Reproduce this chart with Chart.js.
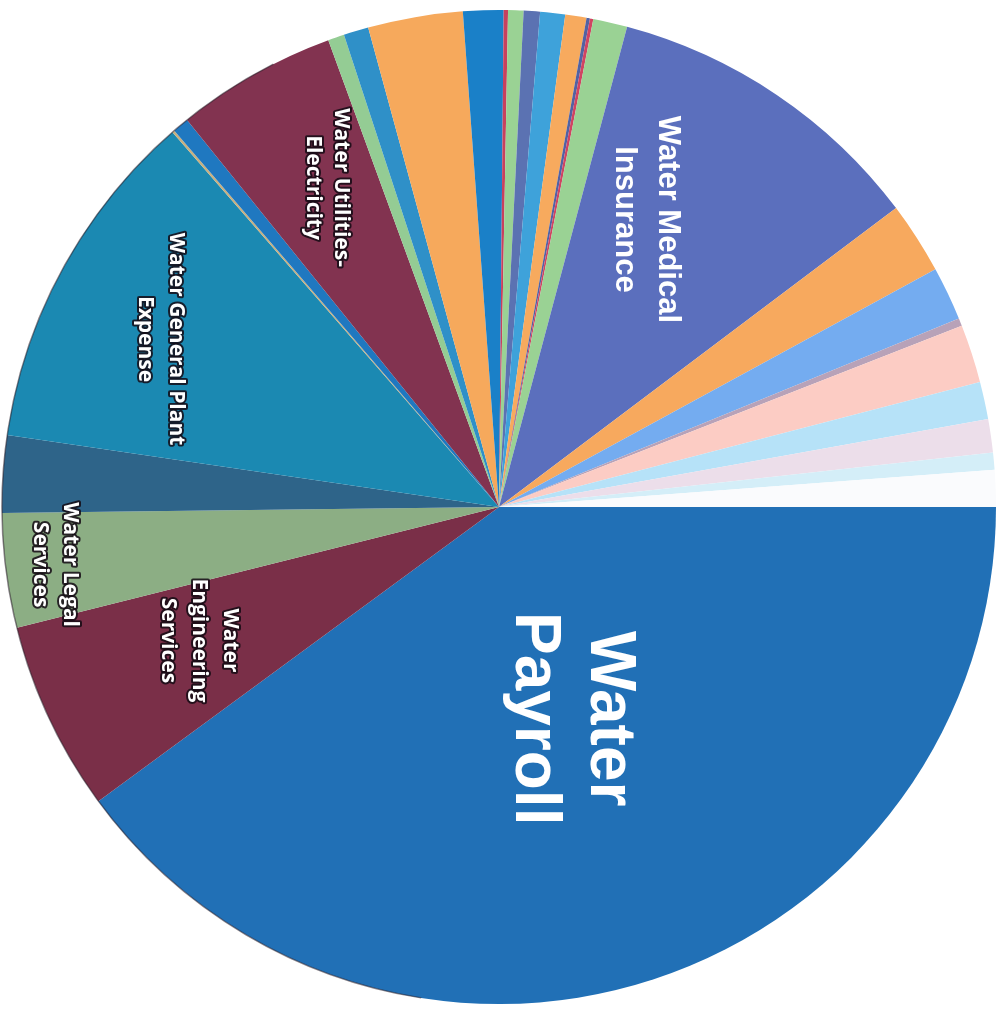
<!DOCTYPE html>
<html>
<head>
<meta charset="utf-8">
<script src="https://cdn.jsdelivr.net/npm/chart.js@4/dist/chart.umd.min.js"></script>
<style>
  html, body { margin:0; padding:0; background:#fff; }
  #wrap { width:1000px; height:1009px; position:relative; }
</style>
</head>
<body>
<div id="wrap"><canvas id="pie"></canvas></div>
<script>
// slices, clockwise from 3 o'clock (share of total, %)
var CATEGORIES = [
  "Water Payroll", "Water Engineering Services", "Water Legal Services", "Water Other 1",
  "Water General Plant Expense", "Water Other 2", "Water Other 3", "Water Utilities-Electricity",
  "Water Other 4", "Water Other 5", "Water Other 6", "Water Other 7", "Water Other 8",
  "Water Other 9", "Water Other 10", "Water Other 11", "Water Other 12", "Water Other 13",
  "Water Other 14", "Water Other 15", "Water Medical Insurance", "Water Other 16",
  "Water Other 17", "Water Other 18", "Water Other 19", "Water Other 20", "Water Other 21",
  "Water Other 22", "Water Other 23"
];
var SHARES = [
  39.92, 6.17, 3.72, 2.50,
  11.28, 0.08, 0.53, 5.22,
  0.53, 0.81, 3.08, 1.31, 0.14,
  0.50, 0.53, 0.81, 0.69, 0.11,
  0.11, 1.11, 10.58, 2.33,
  1.75, 0.25, 1.89, 1.22, 1.08,
  0.56, 1.19
];
var COLORS = [
  "#2170b6", "#7a2f48", "#8cae84", "#2e6489",
  "#1b89b2", "#c8b080", "#1f78c0", "#823350",
  "#94cc94", "#2f90c8", "#f6a95c", "#1a80c8", "#c8405e",
  "#9ad294", "#5b72b2", "#3ea2da", "#f7aa5e", "#5262a2",
  "#d04462", "#9ad294", "#5b6fbd", "#f7a95e",
  "#74acf0", "#b8a2b8", "#fcccc4", "#b6e2f8", "#ecdeea",
  "#d4eef8", "#fafbfd"
];

// labels drawn on slices: slice index, lines, font, radial fraction, angle (deg from 3 o'clock, clockwise)
var LABELS = [
  { idx:0,  lines:["Water","Payroll"], font:"bold 64px 'Liberation Sans', Arial, sans-serif", lh:75, r:0.45, a:71.2, outline:false },
  { idx:20, lines:["Water Medical","Insurance"], font:"bold 31px 'Liberation Sans', Arial, sans-serif", lh:43, r:0.65, a:297.1, outline:false },
  { idx:7,  lines:["Water Utilities-","Electricity"], font:"bold 21px 'Open Sans', sans-serif", lh:28, r:0.73, a:241.7, outline:true },
  { idx:4,  lines:["Water General Plant","Expense"], font:"bold 21px 'Open Sans', sans-serif", lh:31, r:0.76, a:206.4, outline:true },
  { idx:2,  lines:["Water Legal","Services"], font:"bold 21px 'Open Sans', sans-serif", lh:30, r:0.90, a:172.6, outline:true },
  { idx:1,  lines:["Water","Engineering","Services"], font:"bold 21px 'Open Sans', sans-serif", lh:31, r:0.66, a:156, outline:true }
];

var sliceLabels = {
  id: "sliceLabels",
  afterDatasetsDraw: function(chart){
    var ctx = chart.ctx;
    var arc = chart.getDatasetMeta(0).data[0];
    var cx = arc.x, cy = arc.y, R = arc.outerRadius;

    // faint dark rim like the scanned print
    ctx.save();
    ctx.beginPath();
    ctx.arc(cx, cy, R, Math.PI*0.55, Math.PI*1.35);
    ctx.strokeStyle = "rgba(40,30,40,0.55)";
    ctx.lineWidth = 1.5;
    ctx.stroke();
    ctx.restore();

    for (var i=0;i<LABELS.length;i++){
      var L = LABELS[i];
      var ang = L.a * Math.PI/180;
      var px = cx + Math.cos(ang)*R*L.r;
      var py = cy + Math.sin(ang)*R*L.r;
      ctx.save();
      ctx.translate(px, py);
      ctx.rotate(Math.PI/2);
      ctx.font = L.font;
      ctx.textAlign = "center";
      ctx.textBaseline = "middle";
      var n = L.lines.length;
      for (var k=0;k<n;k++){
        var y = (k - (n-1)/2) * L.lh;
        if (L.outline){
          ctx.lineWidth = 4;
          ctx.lineJoin = "round";
          ctx.strokeStyle = "rgba(20,10,20,0.85)";
          ctx.strokeText(L.lines[k], 0, y);
        }
        ctx.fillStyle = "#ffffff";
        ctx.fillText(L.lines[k], 0, y);
      }
      ctx.restore();
    }
  }
};

new Chart(document.getElementById("pie").getContext("2d"), {
  type: "pie",
  data: {
    labels: CATEGORIES,
    datasets: [{
      data: SHARES,
      backgroundColor: COLORS,
      borderWidth: 0
    }]
  },
  options: {
    responsive: true,
    maintainAspectRatio: false,
    animation: false,
    rotation: 90,
    layout: { padding: { left:2, right:4, top:10, bottom:5 } },
    plugins: {
      legend: { display:false },
      tooltip: { enabled:false }
    }
  },
  plugins: [sliceLabels]
});
</script>
</body>
</html>
